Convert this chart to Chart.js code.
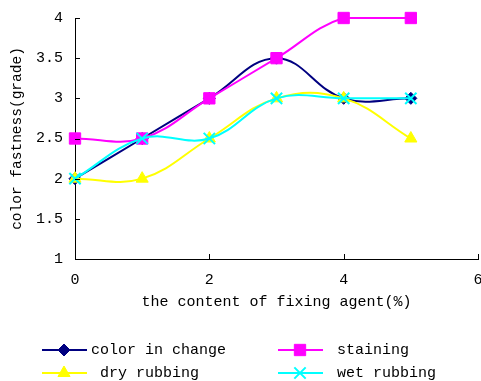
<!DOCTYPE html>
<html>
    <head>
        <title>color fastness</title>
        <style>
            body { margin: 0; background: #fff; }
            #wrap { width: 481px; height: 381px; }
        </style>
    </head>
    <body>
        <div id="wrap">
            <canvas id="fast"></canvas>
        </div>

        <script src="https://cdn.jsdelivr.net/npm/chart.js"></script>
        <script>
            const xValues = [0, 1, 2, 3, 4, 5];
            const colorInChange = [2, 2.5, 3, 3.5, 3, 3];
            const staining = [2.5, 2.5, 3, 3.5, 4, 4];
            const dryRubbing = [2, 2, 2.5, 3, 3, 2.5];
            const wetRubbing = [2, 2.5, 2.5, 3, 3, 3];

            const seriesNames = ['color in change', 'staining', ' dry rubbing', 'wet rubbing'];
            const yTickLabels = ['1', '1.5', '2', '2.5', '3', '3.5', '4'];
            const xTitle = 'the content of fixing agent(%)';
            const yTitle = 'color fastness(grade)';

            const FONT = 'Liberation Mono';
            const pts = vals => vals.map((v, i) => ({ x: xValues[i], y: v }));

            // inward tick marks + two column legend under the plot
            const extras = {
                id: 'extras',
                afterDraw(chart) {
                    const ctx = chart.ctx;
                    const xs = chart.scales.x, ys = chart.scales.y;
                    const area = chart.chartArea;
                    ctx.save();
                    ctx.strokeStyle = '#000';
                    ctx.lineWidth = 1;
                    ctx.beginPath();
                    xs.ticks.forEach(t => {
                        const px = Math.round(xs.getPixelForValue(t.value)) + 0.5;
                        ctx.moveTo(px, area.bottom);
                        ctx.lineTo(px, area.bottom - 5);
                    });
                    ys.ticks.forEach(t => {
                        const py = Math.round(ys.getPixelForValue(t.value)) + 0.5;
                        ctx.moveTo(area.left, py);
                        ctx.lineTo(area.left + 5, py);
                    });
                    ctx.stroke();

                    const spots = [[42, 350], [278, 350], [42, 373], [278, 373]];
                    chart.data.datasets.forEach((ds, i) => {
                        const [lx, ly] = spots[i];
                        ctx.strokeStyle = ds.borderColor;
                        ctx.lineWidth = ds.borderWidth;
                        ctx.beginPath();
                        ctx.moveTo(lx, ly);
                        ctx.lineTo(lx + 45, ly);
                        ctx.stroke();
                        ctx.fillStyle = ds.pointBackgroundColor;
                        ctx.strokeStyle = ds.pointBorderColor;
                        ctx.lineWidth = ds.pointBorderWidth;
                        Chart.helpers.drawPoint(ctx, {
                            pointStyle: ds.pointStyle,
                            radius: ds.pointRadius,
                            rotation: 0,
                            borderWidth: ds.pointBorderWidth
                        }, lx + 22, ly);
                        ctx.fillStyle = '#000';
                        ctx.font = '15px "' + FONT + '"';
                        ctx.textBaseline = 'middle';
                        ctx.fillText(ds.label, i % 2 ? lx + 59 : lx + 49, ly);
                    });
                    ctx.restore();
                }
            };

            const makeSet = (label, data, color, style, radius, order) => ({
                label: label,
                data: pts(data),
                borderColor: color,
                backgroundColor: color,
                borderWidth: 2,
                pointStyle: style,
                pointRadius: radius,
                pointBackgroundColor: color,
                pointBorderColor: color,
                pointBorderWidth: style === 'crossRot' ? 2 : 1,
                tension: 0.4,
                clip: false,
                order: order
            });

            new Chart(document.querySelector('#fast'), {
                type: 'line',
                data: {
                    datasets: [
                        makeSet(seriesNames[0], colorInChange, '#000080', 'rectRot', 6, 3),
                        makeSet(seriesNames[1], staining, '#FF00FF', 'rect', 8, 2),
                        makeSet(seriesNames[2], dryRubbing, '#FFFF00', 'triangle', 7, 1),
                        makeSet(seriesNames[3], wetRubbing, '#00FFFF', 'crossRot', 8, 0)
                    ]
                },
                options: {
                    responsive: true,
                    maintainAspectRatio: false,
                    animation: false,
                    layout: { autoPadding: false, padding: { top: 18, right: 3, bottom: 70, left: 0 } },
                    plugins: { legend: { display: false }, tooltip: { enabled: false } },
                    scales: {
                        x: {
                            type: 'linear',
                            min: 0, max: 6,
                            ticks: { stepSize: 2, color: '#000', padding: 12, font: { family: FONT, size: 15 } },
                            grid: { display: false, drawTicks: false },
                            border: { color: '#000', width: 1 },
                            title: { display: true, text: xTitle, color: '#000', font: { family: FONT, size: 15 }, padding: 0 },
                            afterFit: s => { s.height = 52; s.paddingLeft = 0; s.paddingRight = 0; }
                        },
                        y: {
                            min: 1, max: 4,
                            ticks: {
                                stepSize: 0.5, color: '#000', padding: 12,
                                font: { family: FONT, size: 15 },
                                callback: (v, i) => yTickLabels[i]
                            },
                            grid: { display: false, drawTicks: false },
                            border: { color: '#000', width: 1 },
                            title: { display: true, text: yTitle, color: '#000', font: { family: FONT, size: 14.5 }, padding: { top: 8, bottom: 0 } },
                            afterFit: s => { s.width = 75; s.paddingTop = 0; s.paddingBottom = 0; }
                        }
                    }
                },
                plugins: [extras]
            });
        </script>
    </body>
</html>
